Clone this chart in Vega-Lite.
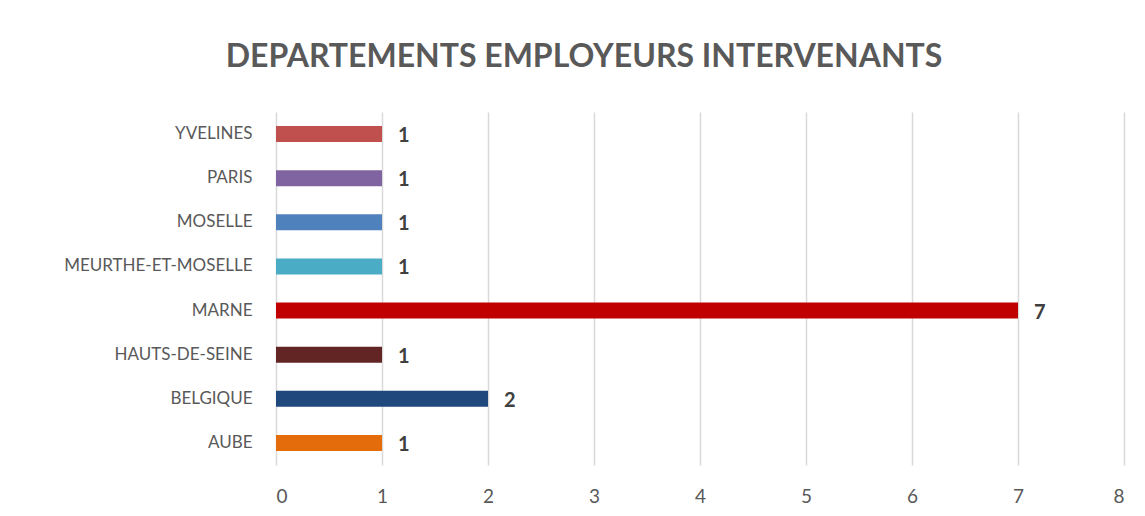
{
  "$schema": "https://vega.github.io/schema/vega-lite/v6.json",
  "autosize": {"type": "none"},
  "width": 848,
  "height": 353,
  "padding": {"left": 276, "top": 112, "right": 21, "bottom": 51},
  "background": "white",
  "title": {
    "text": "DEPARTEMENTS EMPLOYEURS INTERVENANTS",
    "anchor": "middle",
    "frame": "group",
    "dx": -116,
    "offset": 38,
    "font": "Lato",
    "fontSize": 32,
    "fontWeight": "bold",
    "color": "#595959"
  },
  "data": {
    "values": [
      {"dept": "YVELINES", "n": 1},
      {"dept": "PARIS", "n": 1},
      {"dept": "MOSELLE", "n": 1},
      {"dept": "MEURTHE-ET-MOSELLE", "n": 1},
      {"dept": "MARNE", "n": 7},
      {"dept": "HAUTS-DE-SEINE", "n": 1},
      {"dept": "BELGIQUE", "n": 2},
      {"dept": "AUBE", "n": 1}
    ]
  },
  "encoding": {
    "y": {
      "field": "dept",
      "type": "nominal",
      "sort": ["YVELINES", "PARIS", "MOSELLE", "MEURTHE-ET-MOSELLE", "MARNE", "HAUTS-DE-SEINE", "BELGIQUE", "AUBE"],
      "scale": {"paddingInner": 0.637, "paddingOuter": 0.3185},
      "axis": {
        "title": null,
        "domain": false,
        "ticks": false,
        "labelPadding": 24,
        "labelLimit": 300,
        "labelFont": "Lato",
        "labelFontSize": 17,
        "labelColor": "#595959"
      }
    },
    "x": {
      "field": "n",
      "type": "quantitative",
      "scale": {"domain": [0, 8], "nice": false},
      "axis": {
        "title": null,
        "domain": false,
        "ticks": false,
        "tickCount": 8,
        "grid": true,
        "gridColor": "#d9d9d9",
        "gridWidth": 1.5,
        "labelPadding": 22,
        "labelFont": "Lato",
        "labelFontSize": 19,
        "labelColor": "#595959"
      }
    }
  },
  "layer": [
    {
      "mark": {"type": "bar"},
      "encoding": {
        "color": {
          "field": "dept",
          "type": "nominal",
          "legend": null,
          "scale": {
            "domain": ["YVELINES", "PARIS", "MOSELLE", "MEURTHE-ET-MOSELLE", "MARNE", "HAUTS-DE-SEINE", "BELGIQUE", "AUBE"],
            "range": ["#C0504D", "#8064A2", "#4F81BD", "#4BACC6", "#C00000", "#632523", "#1F497D", "#E46C0A"]
          }
        }
      }
    },
    {
      "mark": {
        "type": "text",
        "align": "left",
        "baseline": "middle",
        "dx": 16,
        "dy": 2,
        "font": "Lato",
        "fontSize": 20,
        "fontWeight": "bold",
        "color": "#404040"
      },
      "encoding": {"text": {"field": "n", "type": "quantitative"}}
    }
  ],
  "config": {"view": {"stroke": null}}
}
